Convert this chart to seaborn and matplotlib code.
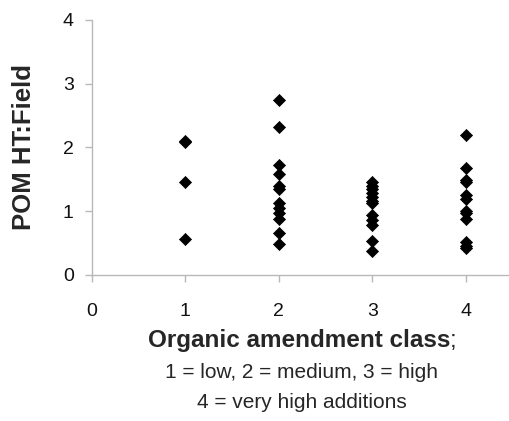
import pandas as pd
import matplotlib
matplotlib.use("Agg")
import matplotlib.pyplot as plt
import seaborn as sns

##### Daten #####

class_1 = [2.10, 2.08, 1.45, 0.56]
class_2 = [2.74, 2.32, 1.72, 1.58, 1.40, 1.35, 1.12, 1.05, 0.97, 0.88, 0.65, 0.48]
class_3 = [1.46, 1.40, 1.34, 1.28, 1.22, 1.16, 1.12, 0.94, 0.86, 0.78, 0.53, 0.37]
class_4 = [2.19, 1.67, 1.49, 1.45, 1.25, 1.19, 1.00, 0.97, 0.87, 0.52, 0.45, 0.42]

x_ticks = [0, 1, 2, 3, 4]
y_ticks = [0, 1, 2, 3, 4]

rows = []
for k, vals in zip([1, 2, 3, 4], [class_1, class_2, class_3, class_4]):
    for v in vals:
        rows.append({"klasse": k, "pom": v})
df = pd.DataFrame(rows)

##### Plot #####

sns.set_style("white")
plt.rcParams['font.family'] = ['Liberation Sans', 'DejaVu Sans']

fig = plt.figure(figsize=(5.10, 4.21), dpi=100)
ax = fig.add_axes([0.180, 0.347, 0.82, 0.606])

sns.scatterplot(data=df, x="klasse", y="pom", marker="D", s=38,
                color="black", edgecolor="black", linewidth=0.5, ax=ax, legend=False)

ax.set_xlim(0, 4.47)
ax.set_ylim(0, 4)
ax.set_xticks(x_ticks)
ax.set_yticks(y_ticks)
ax.tick_params(axis="both", labelsize=14, colors="#b8b8b8", labelcolor="#111111",
               length=5, width=1, direction="out", bottom=True, left=True)
ax.tick_params(axis="x", pad=15)
ax.tick_params(axis="y", pad=8)
for side in ["top", "right"]:
    ax.spines[side].set_visible(False)
for side in ["left", "bottom"]:
    ax.spines[side].set_color("#b8b8b8")
    ax.spines[side].set_linewidth(1)
ax.set_xlabel("")
ax.set_ylabel("POM HT:Field", fontsize=18.5, fontweight="bold")
ax.yaxis.set_label_coords(-0.133, 0.5)

# x-Beschriftung mit fettem Teil und Semikolon
t = fig.text(299 / 510, 1 - 340 / 421, "Organic amendment class", fontsize=17.5,
             fontweight="bold", ha="center", va="center")
ax.annotate(";", xy=(1, 0), xycoords=t, fontsize=17.5, ha="left", va="bottom")
fig.text(302 / 510, 1 - 373 / 421, "1 = low, 2 = medium, 3 = high", fontsize=15,
         ha="center", va="center")
fig.text(302 / 510, 1 - 403 / 421, "4 = very high additions", fontsize=15,
         ha="center", va="center")

plt.savefig("out.png", dpi=100)
